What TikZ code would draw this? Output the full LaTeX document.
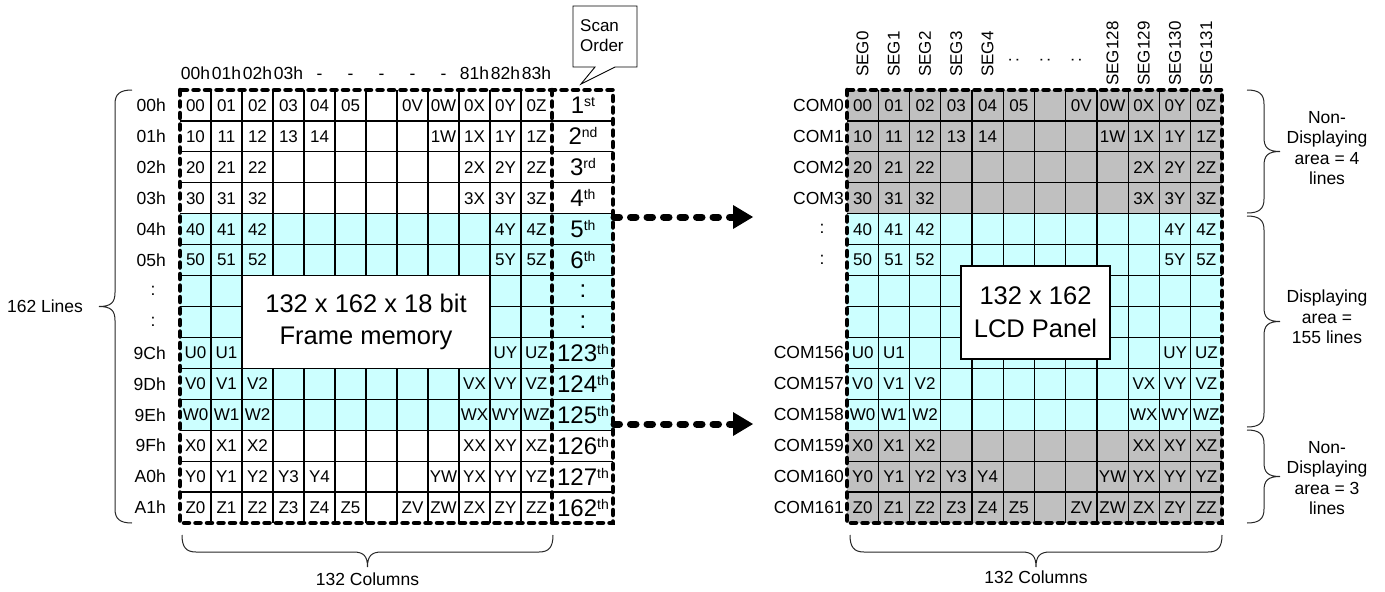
\documentclass[tikz,border=0pt]{standalone}
\usepackage{fontspec}
\setmainfont{Liberation Sans}
\usetikzlibrary{arrows.meta}
\definecolor{cellcyan}{HTML}{CCFFFF}
\definecolor{cellgray}{HTML}{C0C0C0}
\newcommand{\fsz}[1]{\fontsize{#1}{#1}\selectfont}
\newcommand{\ordn}[2]{{\fsz{24}#1}\raisebox{7pt}{\fsz{14}#2}}
\newcommand{\cellrow}[5]{%
  \foreach \ci/\ctext in {#5}{%
    \node[cell] (#1-#2-\ci) at ({#3+(\ci+0.5)*#4},{90+(#2+0.5)*30.93}) {\ctext};
  }}
\newcommand{\gridtext}[3]{%
  \cellrow{#1}{0}{#2}{#3}{0/00,1/01,2/02,3/03,4/04,5/05,7/0V,8/0W,9/0X,10/0Y,11/0Z}
  \cellrow{#1}{1}{#2}{#3}{0/10,1/11,2/12,3/13,4/14,8/1W,9/1X,10/1Y,11/1Z}
  \cellrow{#1}{2}{#2}{#3}{0/20,1/21,2/22,9/2X,10/2Y,11/2Z}
  \cellrow{#1}{3}{#2}{#3}{0/30,1/31,2/32,9/3X,10/3Y,11/3Z}
  \cellrow{#1}{4}{#2}{#3}{0/40,1/41,2/42,10/4Y,11/4Z}
  \cellrow{#1}{5}{#2}{#3}{0/50,1/51,2/52,10/5Y,11/5Z}
  \cellrow{#1}{8}{#2}{#3}{0/U0,1/U1,10/UY,11/UZ}
  \cellrow{#1}{9}{#2}{#3}{0/V0,1/V1,2/V2,9/VX,10/VY,11/VZ}
  \cellrow{#1}{10}{#2}{#3}{0/W0,1/W1,2/W2,9/WX,10/WY,11/WZ}
  \cellrow{#1}{11}{#2}{#3}{0/X0,1/X1,2/X2,9/XX,10/XY,11/XZ}
  \cellrow{#1}{12}{#2}{#3}{0/Y0,1/Y1,2/Y2,3/Y3,4/Y4,8/YW,9/YX,10/YY,11/YZ}
  \cellrow{#1}{13}{#2}{#3}{0/Z0,1/Z1,2/Z2,3/Z3,4/Z4,5/Z5,7/ZV,8/ZW,9/ZX,10/ZY,11/ZZ}
}
% vertical brace: x, y1, y2, sign (+1 tip right, -1 tip left)
\newcommand{\vbr}[4]{%
  \pgfmathsetmacro\bym{(#2+#3)/2}
  \draw[brc] (#1,#2) .. controls ({#1+#4*12},#2) and ({#1+#4*17},{#2+4}) .. ({#1+#4*17},{#2+14})
    -- ({#1+#4*17},{\bym-14}) .. controls ({#1+#4*17},{\bym-4}) and ({#1+#4*21},\bym) .. ({#1+#4*33},\bym)
    .. controls ({#1+#4*21},\bym) and ({#1+#4*17},{\bym+4}) .. ({#1+#4*17},{\bym+14})
    -- ({#1+#4*17},{#3-14}) .. controls ({#1+#4*17},{#3-4}) and ({#1+#4*12},#3) .. (#1,#3);
}
% horizontal brace pointing down: y, x1, x2
\newcommand{\hbr}[3]{%
  \pgfmathsetmacro\bxm{(#2+#3)/2}
  \draw[brc] (#2,#1) .. controls (#2,{#1+12}) and ({#2+4},{#1+17}) .. ({#2+14},{#1+17})
    -- ({\bxm-14},{#1+17}) .. controls ({\bxm-4},{#1+17}) and (\bxm,{#1+21}) .. (\bxm,{#1+32})
    .. controls (\bxm,{#1+21}) and ({\bxm+4},{#1+17}) .. ({\bxm+14},{#1+17})
    -- ({#3-14},{#1+17}) .. controls ({#3-4},{#1+17}) and (#3,{#1+12}) .. (#3,#1);
}
\begin{document}
\begin{tikzpicture}[x=1pt,y=-1pt,
  cell/.style={inner sep=0pt,font=\fsz{17}},
  lbl/.style={inner sep=0pt,font=\fsz{17.5}},
  seg/.style={inner sep=0pt,font=\fsz{17},rotate=90,anchor=west},
  gridline/.style={line width=1.2pt,black},
  dframe/.style={line width=4.5pt,dash pattern=on 5pt off 6.5pt,line cap=round},
  bigbox/.style={draw,line width=1.6pt,fill=white,inner sep=0pt,align=center},
  brc/.style={line width=1pt,black!85},
  bigarrow/.style={line width=7pt,line cap=round,dash pattern=on 5.5pt off 11pt,
    -{Triangle[length=20pt,width=24pt,line width=0pt]}},
  txt/.style={inner sep=0pt,align=center,font=\fontsize{17.5}{20.5}\selectfont}]
\useasboundingbox (0,0) rectangle (1385,592);

% ---------- backgrounds ----------
\fill[cellcyan] (180,{90+4*30.93}) rectangle (613,{90+11*30.93});
\fill[cellgray] (847,90) rectangle (1222,{90+4*30.93});
\fill[cellcyan] (847,{90+4*30.93}) rectangle (1222,{90+11*30.93});
\fill[cellgray] (847,{90+11*30.93}) rectangle (1222,523);

% ---------- grid lines ----------
\foreach \ci in {1,...,11}{
  \draw[gridline] ({180+31*\ci},90) -- ({180+31*\ci},523);
  \draw[gridline] ({847+31.25*\ci},90) -- ({847+31.25*\ci},523);
}
\foreach \ri in {1,...,13}{
  \draw[gridline] (180,{90+30.93*\ri}) -- (613,{90+30.93*\ri});
  \draw[gridline] (847,{90+30.93*\ri}) -- (1222,{90+30.93*\ri});
}

% ---------- cell texts ----------
\gridtext{L}{180}{31}
\gridtext{R}{847}{31.25}

% ---------- centre boxes ----------
\node[bigbox,minimum width=248pt,minimum height=92.8pt,font=\fontsize{25.5}{32}\selectfont]
  (fm) at (366,322) {132 x 162 x 18 bit\\Frame memory};
\node[bigbox,minimum width=149pt,minimum height=93pt,font=\fontsize{25.5}{33}\selectfont]
  (lcd) at (1035.5,312.5) {132 x 162\\LCD Panel};

% ---------- dashed frames ----------
\draw[dframe] (180,90) rectangle (613,523);
\draw[dframe] (552,90) -- (552,523);
\draw[dframe] (847,90) rectangle (1222,523);

% ---------- scan order column ----------
\foreach \ri/\num/\suf in {0/1/st,1/2/nd,2/3/rd,3/4/th,4/5/th,5/6/th,8/123/th,9/124/th,10/125/th,11/126/th,12/127/th,13/162/th}{
  \node[inner sep=0pt] (ord-\ri) at (583,{90+(\ri+0.5)*30.93}) {\ordn{\num}{\suf}};
}
\foreach \ri in {6,7}{
  \node[inner sep=0pt,font=\fsz{24}] (ordc-\ri) at (583,{90+(\ri+0.5)*30.93}) {:};
}

% ---------- left row labels ----------
\foreach \ri/\ctext in {0/00h,1/01h,2/02h,3/03h,4/04h,5/05h,8/9Ch,9/9Dh,10/9Eh,11/9Fh,12/A0h,13/A1h}{
  \node[lbl,anchor=east] (rl-\ri) at (166,{90+(\ri+0.5)*30.93}) {\ctext};
}
\foreach \ri in {6,7}{
  \node[lbl] (rlc-\ri) at (153,{90+(\ri+0.5)*30.93}) {:};
}

% ---------- left header ----------
\foreach \ci/\ctext in {0/00h,1/01h,2/02h,3/03h,4/-,5/-,6/-,7/-,8/-,9/81h,10/82h,11/83h}{
  \node[lbl,anchor=base] (hd-\ci) at ({180+(\ci+0.5)*31},79.5) {\ctext};
}

% ---------- right row labels ----------
\foreach \ri/\ctext in {0/COM0,1/COM1,2/COM2,3/COM3,8/COM156,9/COM157,10/COM158,11/COM159,12/COM160,13/COM161}{
  \node[lbl,anchor=east] (cl-\ri) at (844,{90+(\ri+0.5)*30.93}) {\ctext};
}
\foreach \ri in {4,5}{
  \node[lbl] (clc-\ri) at (822,{90+(\ri+0.5)*30.93}) {:};
}

% ---------- SEG labels ----------
\foreach \ci in {0,...,4}{
  \node[seg] (seg-\ci) at ({847+(\ci+0.5)*31.25},77) {SEG\ci};
}
\foreach \ci/\ctext in {8/SEG128,9/SEG129,10/SEG130,11/SEG131}{
  \node[seg] (seg-\ci) at ({847+(\ci+0.5)*31.25},86) {\ctext};
}
\foreach \ci in {5,6,7}{
  \node[inner sep=0pt,font=\fsz{17},rotate=90] (segd-\ci) at ({847+(\ci+0.5)*31.25-5},60) {:};
}

% ---------- scan order callout ----------
\draw[line width=0.9pt,fill=white] (573,6) -- (637,6) -- (637,67) -- (615,67) -- (581,84) -- (595,67) -- (573,67) -- cycle;
\node[lbl,align=left,anchor=west,font=\fontsize{17}{20}\selectfont] (scan) at (580,36) {Scan\\Order};

% ---------- arrows ----------
\coordinate (a1s) at (614,217);
\coordinate (a1e) at (753,217);
\coordinate (a2s) at (614,424);
\coordinate (a2e) at (753,424);
\draw[bigarrow] (a1s) -- (a1e);
\draw[bigarrow] (a2s) -- (a2e);

% ---------- braces ----------
\vbr{132}{90}{523}{-1}
\node[lbl] (lines162) at (45,306) {162 Lines};
\hbr{535}{182}{553}
\node[lbl] (cols1) at (367.5,579) {132 Columns};
\hbr{535}{850}{1222}
\node[lbl] (cols2) at (1036,577) {132 Columns};
\vbr{1247}{90}{213}{1}
\vbr{1247}{216}{427}{1}
\vbr{1247}{430}{523}{1}
\node[txt] (nd1) at (1327,148) {Non-\\Displaying\\area = 4\\lines};
\node[txt] (da) at (1327,317) {Displaying\\area =\\155 lines};
\node[txt] (nd2) at (1327,478) {Non-\\Displaying\\area = 3\\lines};
\end{tikzpicture}
\end{document}
